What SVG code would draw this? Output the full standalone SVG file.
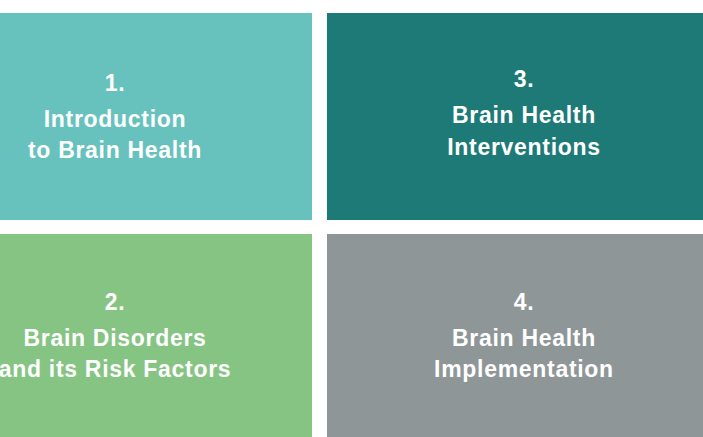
<svg xmlns="http://www.w3.org/2000/svg" width="703" height="437" viewBox="0 0 703 437">
<style>
.t{font-family:"Liberation Sans",Arial,sans-serif;font-weight:bold;font-size:23px;fill:#ffffff;text-anchor:middle;letter-spacing:0.7px}
</style>
<rect x="0" y="0" width="703" height="437" fill="#ffffff"/>
<g id="node1">
<rect x="0" y="13" width="312" height="207" fill="#67C2BE"/>
<text class="t" x="115" y="91">1.</text>
<text class="t" x="115" y="127">Introduction</text>
<text class="t" x="115" y="158">to Brain Health</text>
</g>
<g id="node3">
<rect x="327" y="13" width="376" height="207" fill="#1E7A76"/>
<text class="t" x="524" y="87">3.</text>
<text class="t" x="524" y="123">Brain Health</text>
<text class="t" x="524" y="155">Interventions</text>
</g>
<g id="node2">
<rect x="0" y="234" width="312" height="203" fill="#86C483"/>
<text class="t" x="115" y="310">2.</text>
<text class="t" x="115" y="346">Brain Disorders</text>
<text class="t" x="115" y="377">and its Risk Factors</text>
</g>
<g id="node4">
<rect x="327" y="234" width="376" height="203" fill="#8F9697"/>
<text class="t" x="524" y="310">4.</text>
<text class="t" x="524" y="346">Brain Health</text>
<text class="t" x="524" y="377">Implementation</text>
</g>
<g id="connectors"></g>
</svg>
